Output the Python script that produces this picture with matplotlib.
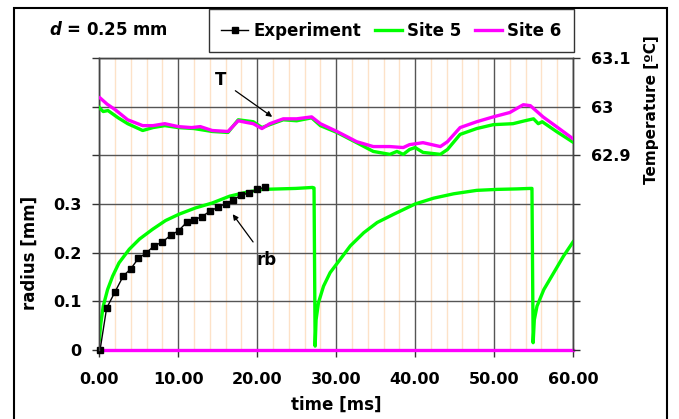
import matplotlib
matplotlib.use("Agg")
import matplotlib.pyplot as plt
from matplotlib.patches import Rectangle

# ---------------- data ----------------
exp_t = [0.1, 0.93, 1.98, 3.04, 4.0, 4.94, 5.9, 6.96, 8.0, 9.07, 10.04, 11.05, 11.94,
         13.0, 14.0, 14.98, 16.0, 16.96, 18.0, 19.0, 20.04, 21.0]
exp_r = [0.0, 0.086, 0.119, 0.152, 0.167, 0.188, 0.199, 0.214, 0.222, 0.236, 0.245,
         0.262, 0.267, 0.274, 0.285, 0.293, 0.301, 0.308, 0.319, 0.322, 0.331, 0.334]

site5_r_t = [0.0, 0.2, 0.5, 1.05, 1.7, 2.5, 3.8, 5.1, 6.75, 8.4, 10.1, 12.2, 14.3,
             16.5, 18.6, 20.7, 22.8, 24.9, 27.0, 27.2,
             27.34, 27.46, 27.76, 28.4, 29.24, 30.5, 31.8, 33.5, 35.2, 37.3, 40.0,
             42.35, 44.9, 47.8, 50.4, 52.9, 54.6, 54.8,
             54.95, 55.1, 55.44, 56.3, 57.57, 58.8, 60.0]
site5_r = [0.021, 0.055, 0.090, 0.124, 0.152, 0.179, 0.207, 0.228, 0.248, 0.266, 0.279,
           0.292, 0.302, 0.316, 0.324, 0.330, 0.331, 0.332, 0.334, 0.333,
           0.008, 0.062, 0.097, 0.131, 0.159, 0.186, 0.214, 0.241, 0.262, 0.279, 0.300,
           0.312, 0.321, 0.328, 0.330, 0.331, 0.332, 0.332,
           0.015, 0.062, 0.090, 0.124, 0.159, 0.193, 0.222]

site6_r_t = [0.4, 60.0]
site6_r = [0.0, 0.0]

site5_T_t = [0.0, 0.5, 1.1, 2.4, 3.6, 5.5, 6.8, 8.3, 10.0, 12.0, 14.3, 16.3, 17.6,
             19.5, 20.6, 21.6, 23.3, 25.0, 26.9, 28.0, 30.1, 32.6, 34.7, 36.8, 37.7,
             38.5, 39.3, 40.0, 41.0, 43.2, 44.1, 45.7, 47.8, 49.9, 52.4, 53.9, 55.0,
             55.6, 56.1, 57.9, 60.0]
site5_T = [62.998, 62.990, 62.992, 62.977, 62.965, 62.951, 62.957, 62.961, 62.957,
           62.955, 62.949, 62.947, 62.973, 62.969, 62.957, 62.963, 62.973, 62.971,
           62.977, 62.961, 62.947, 62.926, 62.908, 62.902, 62.908, 62.902, 62.912,
           62.916, 62.906, 62.902, 62.912, 62.943, 62.955, 62.963, 62.965, 62.971,
           62.975, 62.965, 62.969, 62.949, 62.927]

site6_T_t = [0.1, 1.0, 2.0, 3.6, 5.5, 6.8, 8.3, 10.0, 11.7, 12.8, 14.3, 16.3, 17.6,
             18.5, 19.5, 20.6, 21.6, 23.3, 25.0, 26.9, 28.0, 30.1, 31.3, 32.6, 34.7,
             36.8, 38.5, 39.3, 41.0, 43.2, 44.1, 45.7, 47.8, 49.9, 52.0, 53.7, 54.6,
             56.2, 57.9, 60.0]
site6_T = [63.018, 63.005, 62.994, 62.973, 62.961, 62.961, 62.965, 62.959, 62.957,
           62.959, 62.951, 62.949, 62.971, 62.968, 62.965, 62.955, 62.965, 62.975,
           62.975, 62.979, 62.965, 62.949, 62.939, 62.928, 62.918, 62.918, 62.916,
           62.922, 62.926, 62.918, 62.928, 62.957, 62.969, 62.979, 62.988, 63.004,
           63.002, 62.979, 62.959, 62.934]

x_ticks = [0, 10, 20, 30, 40, 50, 60]
x_minor = [2, 4, 6, 8, 12, 14, 16, 18, 22, 24, 26, 28, 32, 34, 36, 38,
           42, 44, 46, 48, 52, 54, 56, 58]
r_ticks = [0.0, 0.1, 0.2, 0.3, 0.4, 0.5, 0.6]
r_tick_labels = ["0", "0.1", "0.2", "0.3", "", "", ""]
T_ticks = [62.5, 62.6, 62.7, 62.8, 62.9, 63.0, 63.1]
T_tick_labels = ["", "", "", "", "62.9", "63", "63.1"]

# ---------------- figure ----------------
plt.rcParams["font.family"] = ["DejaVu Sans"]
plt.rcParams["font.weight"] = "bold"

fig = plt.figure(figsize=(6.79, 4.19), dpi=100)
ax = fig.add_axes([0.1462, 0.1647, 0.6977, 0.6969])
ax2 = ax.twinx()

GREEN = "#00ff00"
MAGENTA = "#ff00ff"

# grid lines
for xm in x_minor:
    ax.axvline(xm, color="#fde2c8", lw=1.0, zorder=0)
for xg in x_ticks:
    ax.axvline(xg, color="#555555", lw=1.0, zorder=0.5)
for rg in r_ticks[1:]:
    ax.axhline(rg, color="#555555", lw=1.0, zorder=0.5)

ax.plot(site6_r_t, site6_r, color=MAGENTA, lw=2.4, zorder=3, clip_on=False)
l5, = ax.plot(site5_r_t, site5_r, color=GREEN, lw=2.4, zorder=3)
le, = ax.plot(exp_t, exp_r, color="black", lw=1.0, marker="s", ms=4.5, zorder=4,
              clip_on=False)

ax2.plot(site5_T_t, site5_T, color=GREEN, lw=2.4, zorder=3)
l6, = ax2.plot(site6_T_t, site6_T, color=MAGENTA, lw=2.4, zorder=3)

ax.set_xlim(0, 60)
ax.set_ylim(0, 0.6)
ax2.set_ylim(62.5, 63.1)

ax.set_xticks(x_ticks)
ax.set_xticklabels([f"{v:.2f}" for v in x_ticks])
ax.set_yticks(r_ticks)
ax.set_yticklabels(r_tick_labels)
ax2.set_yticks(T_ticks)
ax2.set_yticklabels(T_tick_labels)

ax.tick_params(axis="x", direction="out", length=5, width=1, pad=11, labelsize=11.5, color="#333333")
ax.tick_params(axis="y", direction="out", length=5, width=1, pad=8, labelsize=11.5, color="#333333")
ax2.tick_params(axis="y", direction="out", length=5, width=1, pad=8, labelsize=11.5, color="#333333")

for sp in list(ax.spines.values()) + list(ax2.spines.values()):
    sp.set_color("#444444")
    sp.set_linewidth(1.0)
ax.spines["bottom"].set_color("black")
ax.spines["bottom"].set_zorder(2)
ax2.spines["bottom"].set_visible(False)

ax.set_xlabel("time [ms]", fontsize=12, fontweight="bold")
ax.xaxis.set_label_coords(0.5, -0.158)
ax.set_ylabel("radius [mm]", fontsize=12, fontweight="bold")
ax.yaxis.set_label_coords(-0.128, 0.334)
ax2.set_ylabel("Temperature [ºC]", fontsize=11, fontweight="bold")
ax2.yaxis.set_label_coords(1.150, 0.822)

# annotations
ax.annotate("T", xy=(21.9, 0.479), xytext=(15.3, 0.555), fontsize=12, fontweight="bold",
            ha="center", va="center",
            arrowprops=dict(arrowstyle="-|>", color="black", lw=0.9, mutation_scale=8,
                            shrinkA=6, shrinkB=0))
ax.annotate("rb", xy=(16.9, 0.279), xytext=(21.2, 0.184), fontsize=12, fontweight="bold",
            ha="center", va="center",
            arrowprops=dict(arrowstyle="-|>", color="black", lw=0.9, mutation_scale=8,
                            shrinkA=6, shrinkB=0))

# title text
fig.text(108 / 679, 1 - 30 / 419, r"$\boldsymbol{d}$ = 0.25 mm", fontsize=12,
         fontweight="bold", ha="center", va="center")

# legend
leg = fig.legend([le, l5, l6], ["Experiment", "Site 5", "Site 6"], ncol=3,
                 loc="center", bbox_to_anchor=(391.5 / 679, 1 - 31 / 419),
                 fontsize=12, frameon=True, fancybox=False, shadow=False,
                 handlelength=1.6, handletextpad=0.35, columnspacing=0.8,
                 borderpad=0.75, borderaxespad=0)
leg.get_frame().set_edgecolor("black")
leg.get_frame().set_linewidth(1.0)
for t in leg.get_texts():
    t.set_fontweight("bold")

# outer border
fig.patches.append(Rectangle((14 / 679, -0.05), (667 - 14) / 679, 1.05 - 8 / 419,
                             transform=fig.transFigure, fill=False,
                             edgecolor="black", lw=1.5))

fig.savefig("out.png", dpi=100)
